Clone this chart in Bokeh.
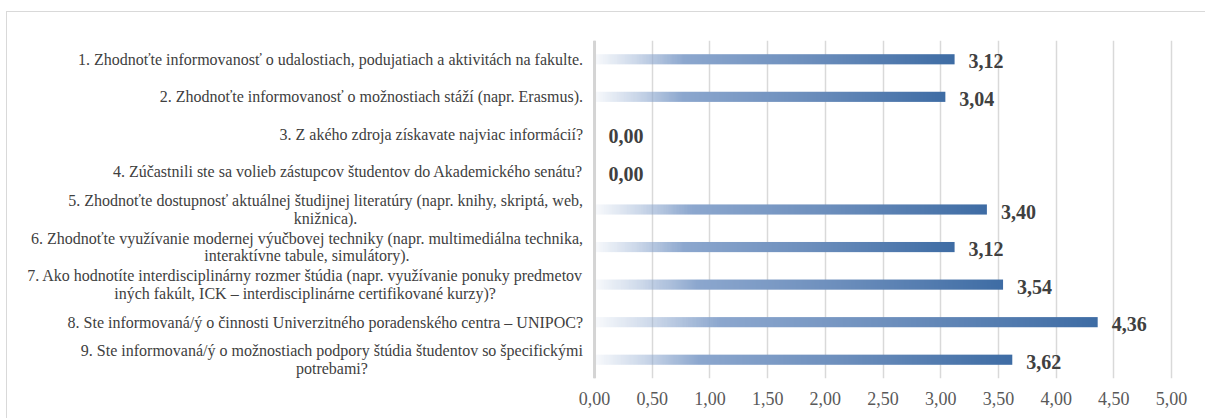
import numpy as np
from bokeh.plotting import figure
from bokeh.models import Range1d, FixedTicker, CustomJSTickFormatter, Span
from bokeh.core.properties import value
from bokeh.embed import file_html
from bokeh.resources import INLINE

labels = [
    "1. Zhodnoťte informovanosť o udalostiach, podujatiach a aktivitách na fakulte.",
    "2. Zhodnoťte informovanosť o možnostiach stáží (napr. Erasmus).",
    "3. Z akého zdroja získavate najviac informácií?",
    "4. Zúčastnili ste sa volieb zástupcov študentov do Akademického senátu?",
    "5. Zhodnoťte dostupnosť aktuálnej študijnej literatúry (napr. knihy, skriptá, web,\nknižnica).",
    "6. Zhodnoťte využívanie modernej výučbovej techniky (napr. multimediálna technika,\ninteraktívne tabule, simulátory).",
    "7. Ako hodnotíte interdisciplinárny rozmer štúdia (napr. využívanie ponuky predmetov\niných fakúlt, ICK – interdisciplinárne certifikované kurzy)?",
    "8. Ste informovaná/ý o činnosti Univerzitného poradenského centra – UNIPOC?",
    "9. Ste informovaná/ý o možnostiach podpory štúdia študentov so špecifickými\npotrebami?",
]
values = [3.12, 3.04, 0.00, 0.00, 3.40, 3.12, 3.54, 4.36, 3.62]
x_ticks = [0.0, 0.5, 1.0, 1.5, 2.0, 2.5, 3.0, 3.5, 4.0, 4.5, 5.0]

n = len(labels)
ypos = [n - i for i in range(n)]  # first item at the top

# gradient stops: (relative position, r, g, b, alpha)
stops = [(0.0, 140, 167, 206, 0.06), (0.12, 140, 167, 206, 0.46), (0.25, 140, 167, 206, 1.0),
         (0.6, 108, 142, 188, 1.0), (1.0, 62, 108, 164, 1.0)]

def gradient_image(width_px=400):
    t = (np.arange(width_px) + 0.5) / width_px
    st = np.array([s[0] for s in stops])
    chans = [np.interp(t, st, np.array([s[k] for s in stops])) for k in range(1, 5)]
    r, g, b = [np.round(c).astype(np.uint32) for c in chans[:3]]
    a = np.round(chans[3] * 255).astype(np.uint32)
    rgba = r | (g << 8) | (b << 16) | (a << 24)
    return rgba.reshape(1, width_px)

p = figure(width=1199, height=407, output_backend="svg", toolbar_location=None,
           y_range=Range1d(0.5, n + 0.5), x_range=Range1d(-5.087, 5.303),
           min_border_left=0, min_border_right=0, min_border_top=28, min_border_bottom=41)
p.outline_line_color = None
p.background_fill_color = "white"
p.border_fill_color = "white"
p.styles = {"margin-left": "6px", "margin-top": "11px",
            "border-top": "1px solid #d9d9d9", "border-left": "1px solid #d9d9d9"}

p.yaxis.visible = False
p.ygrid.grid_line_color = None

p.xaxis.ticker = FixedTicker(ticks=x_ticks)
p.xgrid.ticker = FixedTicker(ticks=x_ticks)
p.xgrid.grid_line_color = "#d9d9d9"
p.xgrid.grid_line_width = 1.5
p.xaxis.axis_line_color = None
p.xaxis.major_tick_line_color = None
p.xaxis.minor_tick_line_color = None
p.xaxis.major_label_standoff = 7
p.xaxis.major_label_text_font = "Liberation Serif"
p.xaxis.major_label_text_font_size = "18px"
p.xaxis.major_label_text_color = "#595959"
p.xaxis.formatter = CustomJSTickFormatter(code="return tick.toFixed(2).replace('.', ',');")

# zero axis line
p.add_layout(Span(location=0, dimension="height", line_color="#d4d4d4", line_width=3))

# gradient-filled bars
bar_h = 0.27
img = gradient_image()
imgs, xs, ys, dws = [], [], [], []
for yp, v in zip(ypos, values):
    if v <= 0:
        continue
    imgs.append(img)
    xs.append(0)
    ys.append(yp - bar_h / 2)
    dws.append(v)
p.image_rgba(image=imgs, x=xs, y=ys, dw=dws, dh=[bar_h] * len(imgs))

# category labels
p.text(x=[-0.1] * n, y=ypos, text=labels, anchor="center_right", text_align="center",
       text_baseline="middle", text_font=value("Liberation Serif"), text_font_size="16px",
       text_color="#404040", text_line_height=1.05)

# value labels
val_txt = [("%.2f" % v).replace(".", ",") for v in values]
p.text(x=values, y=ypos, text=val_txt, x_offset=14, y_offset=2, text_align="left",
       text_baseline="middle", text_font=value("Liberation Serif"), text_font_size="20px",
       text_font_style="bold", text_color="#404040")

open("out.html", "w").write(file_html(p, INLINE))
